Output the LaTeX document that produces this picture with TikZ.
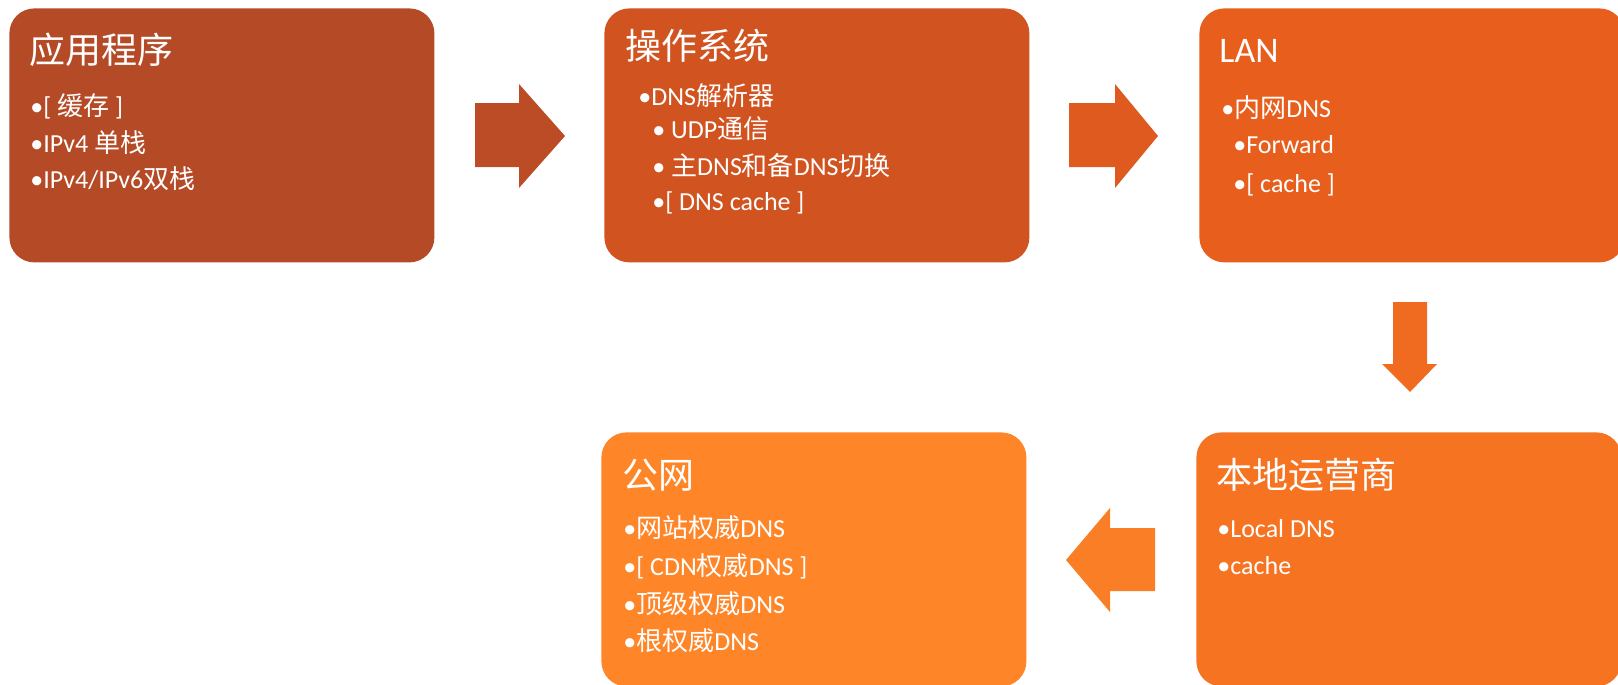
\documentclass[tikz,border=0pt]{standalone}
\usepackage{fontspec}
\setmainfont{Carlito}
\newfontfamily\cjk{Noto Sans CJK SC}
\definecolor{cA}{HTML}{B54A27}
\definecolor{cB}{HTML}{D05320}
\definecolor{cC}{HTML}{E85E1C}
\definecolor{cD}{HTML}{F57321}
\definecolor{cE}{HTML}{FE8629}
\definecolor{aA}{HTML}{BC4C25}
\definecolor{aB}{HTML}{DE5A1E}
\definecolor{aC}{HTML}{F06B20}
\definecolor{aD}{HTML}{FA7E26}
\tikzset{
  x=0.5pt, y=-0.5pt,
  box/.style={rounded corners=12.5pt, draw=none, minimum width=212.5pt, minimum height=127pt, anchor=north west, inner sep=0pt},
  ttl/.style={anchor=base west, inner sep=0pt, text=white, font=\fontsize{18}{20}\selectfont},
  itm/.style={anchor=base west, inner sep=0pt, text=white, font=\fontsize{13}{15}\selectfont},
}
\begin{document}
\begin{tikzpicture}
\clip (0,0) rectangle (1618,685);
% boxes
\node[box, fill=cA] (app) at (9,8) {};
\node[box, fill=cB] (os) at (604,8) {};
\node[box, fill=cC] (lan) at (1199,8) {};
\node[box, fill=cE] (pub) at (601,432) {};
\node[box, fill=cD] (isp) at (1196,432) {};
% arrows
\fill[aA] (475,103) -- (519,103) -- (519,84) -- (565,136) -- (519,188) -- (519,167) -- (475,167) -- cycle;
\fill[aB] (1069,103) -- (1115,103) -- (1115,84) -- (1158,136) -- (1115,188) -- (1115,167) -- (1069,167) -- cycle;
\fill[aC] (1393,302) -- (1427,302) -- (1427,364) -- (1437,364) -- (1410,392) -- (1382,364) -- (1393,364) -- cycle;
\fill[aD] (1155,528) -- (1110,528) -- (1110,508) -- (1066,560) -- (1110,612) -- (1110,591) -- (1155,591) -- cycle;
% box 1
\node[ttl] (appT) at (29,63) {\cjk 应用程序};
\node[itm] (app1) at (30,115) {•[ {\cjk 缓存} ]};
\node[itm] (app2) at (30,152) {•IPv4 {\cjk 单栈}};
\node[itm] (app3) at (30,188) {•IPv4/IPv6{\cjk 双栈}};
% box 2
\node[ttl] (osT) at (625,60) {\cjk 操作系统};
\node[itm] (os1) at (638,105) {•DNS{\cjk 解析器}};
\node[itm] (os2) at (652,138) {• UDP{\cjk 通信}};
\node[itm] (os3) at (652,175) {• {\cjk 主}DNS{\cjk 和备}DNS{\cjk 切换}};
\node[itm] (os4) at (652,210) {•[ DNS cache ]};
% box 3
\node[ttl] (lanT) at (1219,62) {LAN};
\node[itm] (lan1) at (1221,117) {•{\cjk 内网}DNS};
\node[itm] (lan2) at (1233,153) {•Forward};
\node[itm] (lan3) at (1233,192) {•[ cache ]};
% box 4
\node[ttl] (pubT) at (622,488) {\cjk 公网};
\node[itm] (pub1) at (623,537) {•{\cjk 网站权威}DNS};
\node[itm] (pub2) at (623,575) {•[ CDN{\cjk 权威}DNS ]};
\node[itm] (pub3) at (623,613) {•{\cjk 顶级权威}DNS};
\node[itm] (pub4) at (623,650) {•{\cjk 根权威}DNS};
% box 5
\node[ttl] (ispT) at (1216,488) {\cjk 本地运营商};
\node[itm] (isp1) at (1217,537) {•Local DNS};
\node[itm] (isp2) at (1217,574) {•cache};
\end{tikzpicture}
\end{document}
